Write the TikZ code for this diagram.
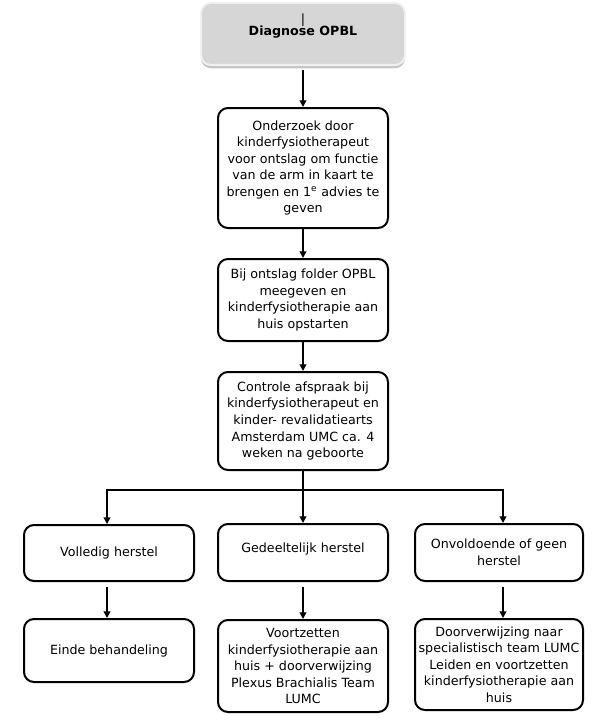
\documentclass[tikz,border=0pt]{standalone}
\usepackage{fontspec}
\setmainfont{DejaVu Sans}
\usetikzlibrary{arrows.meta,shadows}
\begin{document}
\begin{tikzpicture}[x=0.75pt,y=-0.75pt,
  font=\fontsize{9.5pt}{12.4pt}\selectfont,
  box/.style={draw=black, line width=1.5pt, rounded corners=7.5pt, align=center, inner sep=2pt},
  arr/.style={line width=1.5pt, -{Triangle[length=5pt,width=5pt]}},
  ln/.style={line width=1.5pt}
]
\useasboundingbox (0,0) rectangle (597,724);
% top box
\node[draw=gray!12, line width=1.5pt, fill=gray!32, rounded corners=7.5pt,
      minimum width=153pt, minimum height=46.5pt,
      drop shadow={shadow xshift=0pt, shadow yshift=-2.5pt, opacity=0.45}] (diag) at (303,34) {};
\node[align=center, font=\fontsize{9.5pt}{9.5pt}\selectfont\bfseries] (diagtext) at (303,26) {\normalfont|\\Diagnose OPBL};
% column boxes
\node[box, minimum width=127.5pt, minimum height=90pt] (b2) at (303,168)
  {Onderzoek door\\kinderfysiotherapeut\\voor ontslag om functie\\van de arm in kaart te\\brengen en 1\textsuperscript{e} advies te\\geven};
\node[box, minimum width=127.5pt, minimum height=61.5pt] (b3) at (303,300)
  {Bij ontslag folder OPBL\\meegeven en\\kinderfysiotherapie aan\\huis opstarten};
\node[box, minimum width=127.5pt, minimum height=73.5pt] (b4) at (303,421)
  {Controle afspraak bij\\kinderfysiotherapeut en\\kinder- revalidatiearts\\Amsterdam UMC ca. 4\\weken na geboorte};
% row 1
\node[box, minimum width=127.5pt, minimum height=42pt] (r1a) at (109,553) {Volledig herstel};
\node[box, minimum width=127.5pt, minimum height=42.75pt] (r1b) at (303,552.5) {\raisebox{7.5pt}{Gedeeltelijk herstel}};
\node[box, minimum width=126pt, minimum height=42.75pt] (r1c) at (499,552.5) {Onvoldoende of geen\\herstel};
% row 2
\node[box, minimum width=127.5pt, minimum height=47.25pt] (r2a) at (109,650.5) {Einde behandeling};
\node[box, minimum width=127.5pt, minimum height=69pt] (r2b) at (303,666)
  {Voortzetten\\kinderfysiotherapie aan\\huis + doorverwijzing\\Plexus Brachialis Team\\LUMC};
\node[box, minimum width=126pt, minimum height=68.25pt] (r2c) at (499,664.5)
  {Doorverwijzing naar\\specialistisch team LUMC\\Leiden en voortzetten\\kinderfysiotherapie aan\\huis};
% connectors
\draw[arr, shorten <=3pt] (diag.south) -- (b2.north);
\draw[arr] (b2.south) -- (b3.north);
\draw[arr] (b3.south) -- (b4.north);
\coordinate (j) at (303,490);
\draw[ln] (b4.south) -- (j);
\draw[arr] (j) -- (r1b.north);
\draw[arr] (j) -| ([xshift=-1.5pt]r1a.north);
\draw[arr] (j) -| ([xshift=3pt]r1c.north);
\draw[arr, shorten <=4pt] ([xshift=-1.5pt]r1a.south) -- ([xshift=-1.5pt]r2a.north);
\draw[arr, shorten <=4pt] (r1b.south) -- (r2b.north);
\draw[arr, shorten <=4pt] ([xshift=3pt]r1c.south) -- ([xshift=3pt]r2c.north);
\end{tikzpicture}
\end{document}
